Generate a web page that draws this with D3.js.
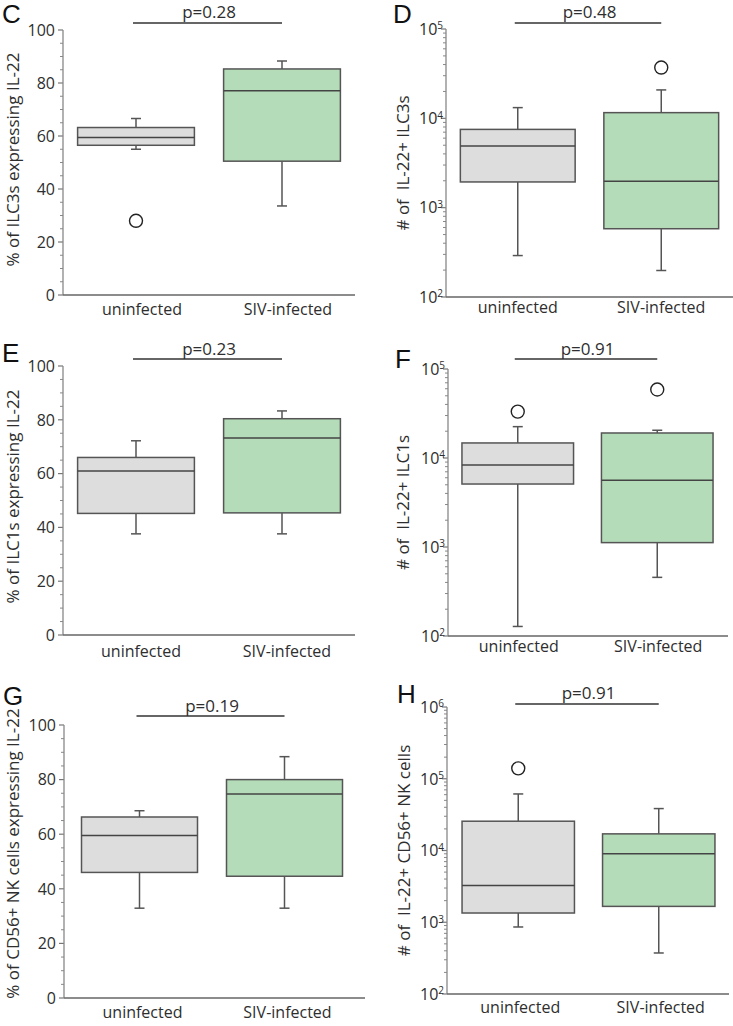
<!DOCTYPE html>
<html><head><meta charset="utf-8">
<script src="https://cdn.jsdelivr.net/npm/d3@7"></script>
<style>body{margin:0;background:#fff} svg text{font-family:"Open Sans",sans-serif;fill:#2e2e2e}</style>
</head><body>
<svg id="chart" width="733" height="1026"></svg>
<script>
// ---------- DATA ----------
const groups = ["uninfected", "SIV-infected"];
// five-number summaries per group: [min, q1, median, q3, max]
const statsC = [[55.0, 56.5, 59.4, 63.2, 66.6], [33.6, 50.5, 77.1, 85.3, 88.3]];
const outliersC = [[28.0], []];
const statsD = [[291, 1940, 4890, 7520, 13180], [198, 581, 1980, 11580, 20800]];
const outliersD = [[], [37000]];
const statsE = [[37.6, 45.2, 61.0, 66.0, 72.2], [37.6, 45.4, 73.2, 80.4, 83.3]];
const outliersE = [[], []];
const statsF = [[128, 5100, 8340, 14760, 22500], [456, 1120, 5610, 19100, 20500]];
const outliersF = [[33200], [58800]];
const statsG = [[32.9, 46.0, 59.5, 66.3, 68.6], [32.9, 44.6, 74.7, 80.0, 88.4]];
const outliersG = [[], []];
const statsH = [[859, 1345, 3260, 25600, 61400], [373, 1664, 8990, 17060, 38400]];
const outliersH = [[139600], []];

const panelLetters = ["C", "D", "E", "F", "G", "H"];
const pLabels = ["p=0.28", "p=0.48", "p=0.23", "p=0.91", "p=0.19", "p=0.91"];
const yTitles = [
  "% of ILC3s expressing IL-22",
  "# of \u00a0IL-22+ ILC3s",
  "% of ILC1s expressing IL-22",
  "# of \u00a0IL-22+ ILC1s",
  "% of CD56+ NK cells expressing IL-22",
  "# of \u00a0IL-22+ CD56+ NK cells"
];
const linearDomain = [0, 100];
const linearTickValues = [0, 20, 40, 60, 80, 100];
const logDomainD = [1e2, 1e5];
const logDomainF = [1e2, 1e5];
const logDomainH = [1e2, 1e6];

// ---------- LAYOUT ----------
const fills = ["#dcdddc", "#b5dcb9"];
const stroke = "#555";
const layout = [
  {ax:63,  yTop:30,  yBot:295, xEnd:355, r0:63,  r1:355, lx:2,   ly:23,  pLine:23,  pText:18,  xLab:315,  dx:6, tx:19,  tdy:-3},
  {ax:446, yTop:29,  yBot:297, xEnd:733, r0:446, r1:733, lx:393, ly:23,  pLine:23,  pText:18,  xLab:313,  dx:0, tx:409, tdy:0},
  {ax:63,  yTop:366, yBot:635, xEnd:355, r0:63,  r1:355, lx:2,   ly:362, pLine:359, pText:355, xLab:657,  dx:5, tx:19,  tdy:-4},
  {ax:448, yTop:369, yBot:636, xEnd:728, r0:448, r1:727, lx:395, ly:368, pLine:359, pText:355, xLab:652,  dx:1, tx:409, tdy:0},
  {ax:64,  yTop:725, yBot:998, xEnd:365, r0:67,  r1:357, lx:3,   ly:705, pLine:716, pText:712, xLab:1018, dx:3, tx:19,  tdy:-8},
  {ax:447, yTop:707, yBot:994, xEnd:729, r0:448, r1:729, lx:397, ly:703, pLine:704, pText:699, xLab:1013, dx:2, tx:410, tdy:0}
];
const panelData = [
  {stats:statsC, out:outliersC, log:false, domain:linearDomain},
  {stats:statsD, out:outliersD, log:true,  domain:logDomainD},
  {stats:statsE, out:outliersE, log:false, domain:linearDomain},
  {stats:statsF, out:outliersF, log:true,  domain:logDomainF},
  {stats:statsG, out:outliersG, log:false, domain:linearDomain},
  {stats:statsH, out:outliersH, log:true,  domain:logDomainH}
];

const svg = d3.select("#chart");

panelData.forEach((pd, i) => {
  const L = layout[i];
  const g = svg.append("g");
  const x = d3.scalePoint().domain(groups).range([L.r0, L.r1]).padding(0.5);
  const boxW = x.step() * 0.8;
  const y = pd.log
    ? d3.scaleLog().domain(pd.domain).range([L.yBot, L.yTop])
    : d3.scaleLinear().domain(pd.domain).range([L.yBot, L.yTop]);

  // y axis ticks
  let minorVals = [], majorVals = [];
  if (pd.log) {
    const e0 = Math.round(Math.log10(pd.domain[0])), e1 = Math.round(Math.log10(pd.domain[1]));
    for (let e = e0; e <= e1; e++) {
      majorVals.push(Math.pow(10, e));
      if (e < e1) for (let m = 2; m <= 9; m++) minorVals.push(m * Math.pow(10, e));
    }
  } else {
    majorVals = linearTickValues;
    for (let v = pd.domain[0]; v <= pd.domain[1]; v += 5) if (v % 20 !== 0) minorVals.push(v);
  }
  g.selectAll(".minor").data(minorVals).join("line")
    .attr("x1", L.ax - 3).attr("x2", L.ax).attr("y1", d => y(d)).attr("y2", d => y(d))
    .attr("stroke", "#888").attr("stroke-width", 1);
  g.selectAll(".major").data(majorVals).join("line")
    .attr("x1", L.ax - 5).attr("x2", L.ax).attr("y1", d => y(d)).attr("y2", d => y(d))
    .attr("stroke", "#777").attr("stroke-width", 1.2);
  // axis lines
  g.append("line").attr("x1", L.ax).attr("x2", L.ax).attr("y1", L.yTop).attr("y2", L.yBot)
    .attr("stroke", "#888").attr("stroke-width", 1.3);
  g.append("line").attr("x1", L.ax).attr("x2", L.xEnd).attr("y1", L.yBot).attr("y2", L.yBot)
    .attr("stroke", "#666").attr("stroke-width", 1.5);

  // tick labels
  if (pd.log) {
    majorVals.forEach(v => {
      const t = g.append("text").attr("x", L.ax - 3).attr("y", y(v)).attr("dy", "0.36em")
        .attr("text-anchor", "end").style("font-size", "16px");
      t.append("tspan").text("10");
      t.append("tspan").text(String(Math.round(Math.log10(v)))).attr("dy", "-0.55em").style("font-size", "10px");
    });
  } else {
    g.selectAll(".tl").data(majorVals).join("text")
      .attr("x", L.ax - 8).attr("y", d => y(d)).attr("dy", "0.36em")
      .attr("text-anchor", "end").style("font-size", "16px").text(d => d);
  }

  // boxes
  groups.forEach((grp, j) => {
    const s = pd.stats[j];
    const cx = x(grp);
    [[s[3], s[4]], [s[1], s[0]]].forEach(([a, b]) => {
      g.append("line").attr("x1", cx).attr("x2", cx).attr("y1", y(a)).attr("y2", y(b))
        .attr("stroke", stroke).attr("stroke-width", 1.5);
      g.append("line").attr("x1", cx - 5).attr("x2", cx + 5).attr("y1", y(b)).attr("y2", y(b))
        .attr("stroke", stroke).attr("stroke-width", 1.5);
    });
    g.append("rect").attr("x", cx - boxW / 2).attr("width", boxW)
      .attr("y", y(s[3])).attr("height", y(s[1]) - y(s[3]))
      .attr("fill", fills[j]).attr("stroke", stroke).attr("stroke-width", 1.5);
    g.append("line").attr("x1", cx - boxW / 2).attr("x2", cx + boxW / 2)
      .attr("y1", y(s[2])).attr("y2", y(s[2])).attr("stroke", "#444").attr("stroke-width", 1.5);
    pd.out[j].forEach(o => {
      g.append("circle").attr("cx", cx).attr("cy", y(o)).attr("r", 6.5)
        .attr("fill", "#fff").attr("stroke", "#222").attr("stroke-width", 1.4);
    });
    g.append("text").attr("x", cx + L.dx).attr("y", L.xLab).attr("text-anchor", "middle")
      .style("font-size", "16px").text(grp);
  });

  // p-value bracket
  const c0 = x(groups[0]), c1 = x(groups[1]);
  g.append("line").attr("x1", c0 - 3).attr("x2", c1).attr("y1", L.pLine).attr("y2", L.pLine)
    .attr("stroke", "#333").attr("stroke-width", 1.5);
  g.append("text").attr("x", (c0 + c1) / 2).attr("y", L.pText).attr("text-anchor", "middle")
    .style("font-size", "17px").text(pLabels[i]);

  // y title
  g.append("text").attr("transform", `translate(${L.tx},${(L.yTop + L.yBot) / 2 + L.tdy}) rotate(-90)`)
    .attr("text-anchor", "middle").style("font-size", "17px").style("white-space", "pre")
    .text(yTitles[i]);

  // panel letter
  g.append("text").attr("x", L.lx).attr("y", L.ly)
    .style("font-size", "26px").style("font-family", "'Liberation Sans', Arial, sans-serif")
    .style("fill", "#111").text(panelLetters[i]);
});
</script>
</body></html>
